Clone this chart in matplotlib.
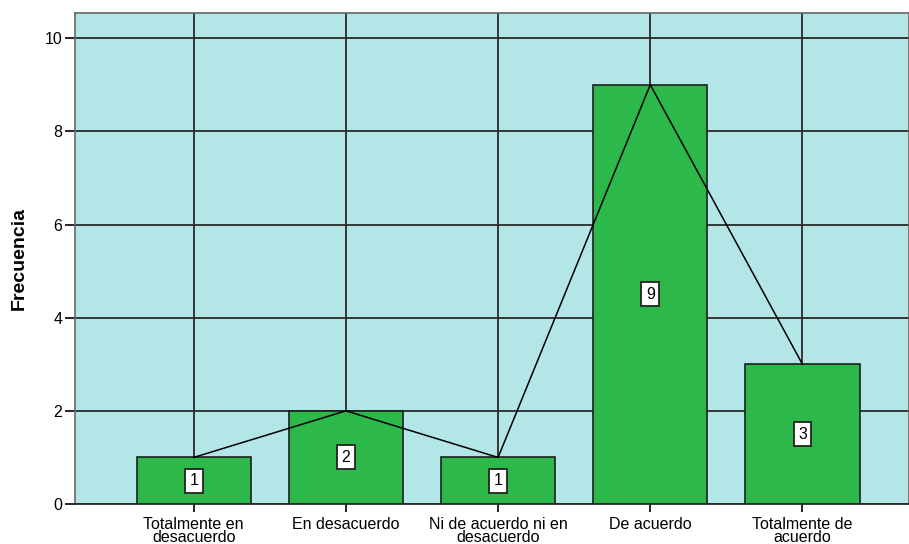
import matplotlib.pyplot as plt
import numpy as np

categories = ['Totalmente en\ndesacuerdo', 'En desacuerdo', 'Ni de acuerdo ni en\ndesacuerdo',
              'De acuerdo', 'Totalmente de\nacuerdo']
freq = [1, 2, 1, 9, 3]
y_ticks = [0, 2, 4, 6, 8, 10]

plt.rcParams['font.family'] = ['Liberation Sans', 'DejaVu Sans']

fig = plt.figure(figsize=(9.09, 5.44), dpi=100)
ax = fig.add_axes([0.0825, 0.0735, 0.9175, 0.9026])
ax.set_facecolor('#b3e6e6')

x = np.arange(len(categories))

# grid behind bars
for yt in y_ticks:
    ax.axhline(yt, color='#2a2a2a', lw=1.3, zorder=1)
for xi in x:
    ax.axvline(xi, color='#2a2a2a', lw=1.3, zorder=1)

ax.bar(x, freq, width=0.75, color='#2db84a', edgecolor='#1e1e1e', lw=1.2, zorder=2)
ax.plot(x, freq, color='black', lw=1.1, zorder=3)

for xi, v in zip(x, freq):
    ax.text(xi, v / 2, str(v), ha='center', va='center', fontsize=11.5, zorder=4,
            bbox=dict(boxstyle='square,pad=0.28', fc='white', ec='#222222', lw=1.3))

ax.set_xlim(-0.78, 4.7)
ax.set_ylim(0, 10.54)
ax.set_yticks(y_ticks)
ax.set_xticks(x)
ax.set_xticklabels(categories, fontsize=11.5, linespacing=0.9)
ax.tick_params(axis='y', length=7, width=1.2, labelsize=11.5, pad=2)
ax.tick_params(axis='x', length=6, width=1.2, pad=3)
ax.set_ylabel('Frecuencia', fontsize=14, fontweight='bold', labelpad=12)

for s in ['top', 'right', 'left']:
    ax.spines[s].set_color('#666666')
    ax.spines[s].set_linewidth(1.2)
ax.spines['bottom'].set_color('#2a2a2a')
ax.spines['bottom'].set_linewidth(1.3)

fig.savefig('out.png', dpi=100)
